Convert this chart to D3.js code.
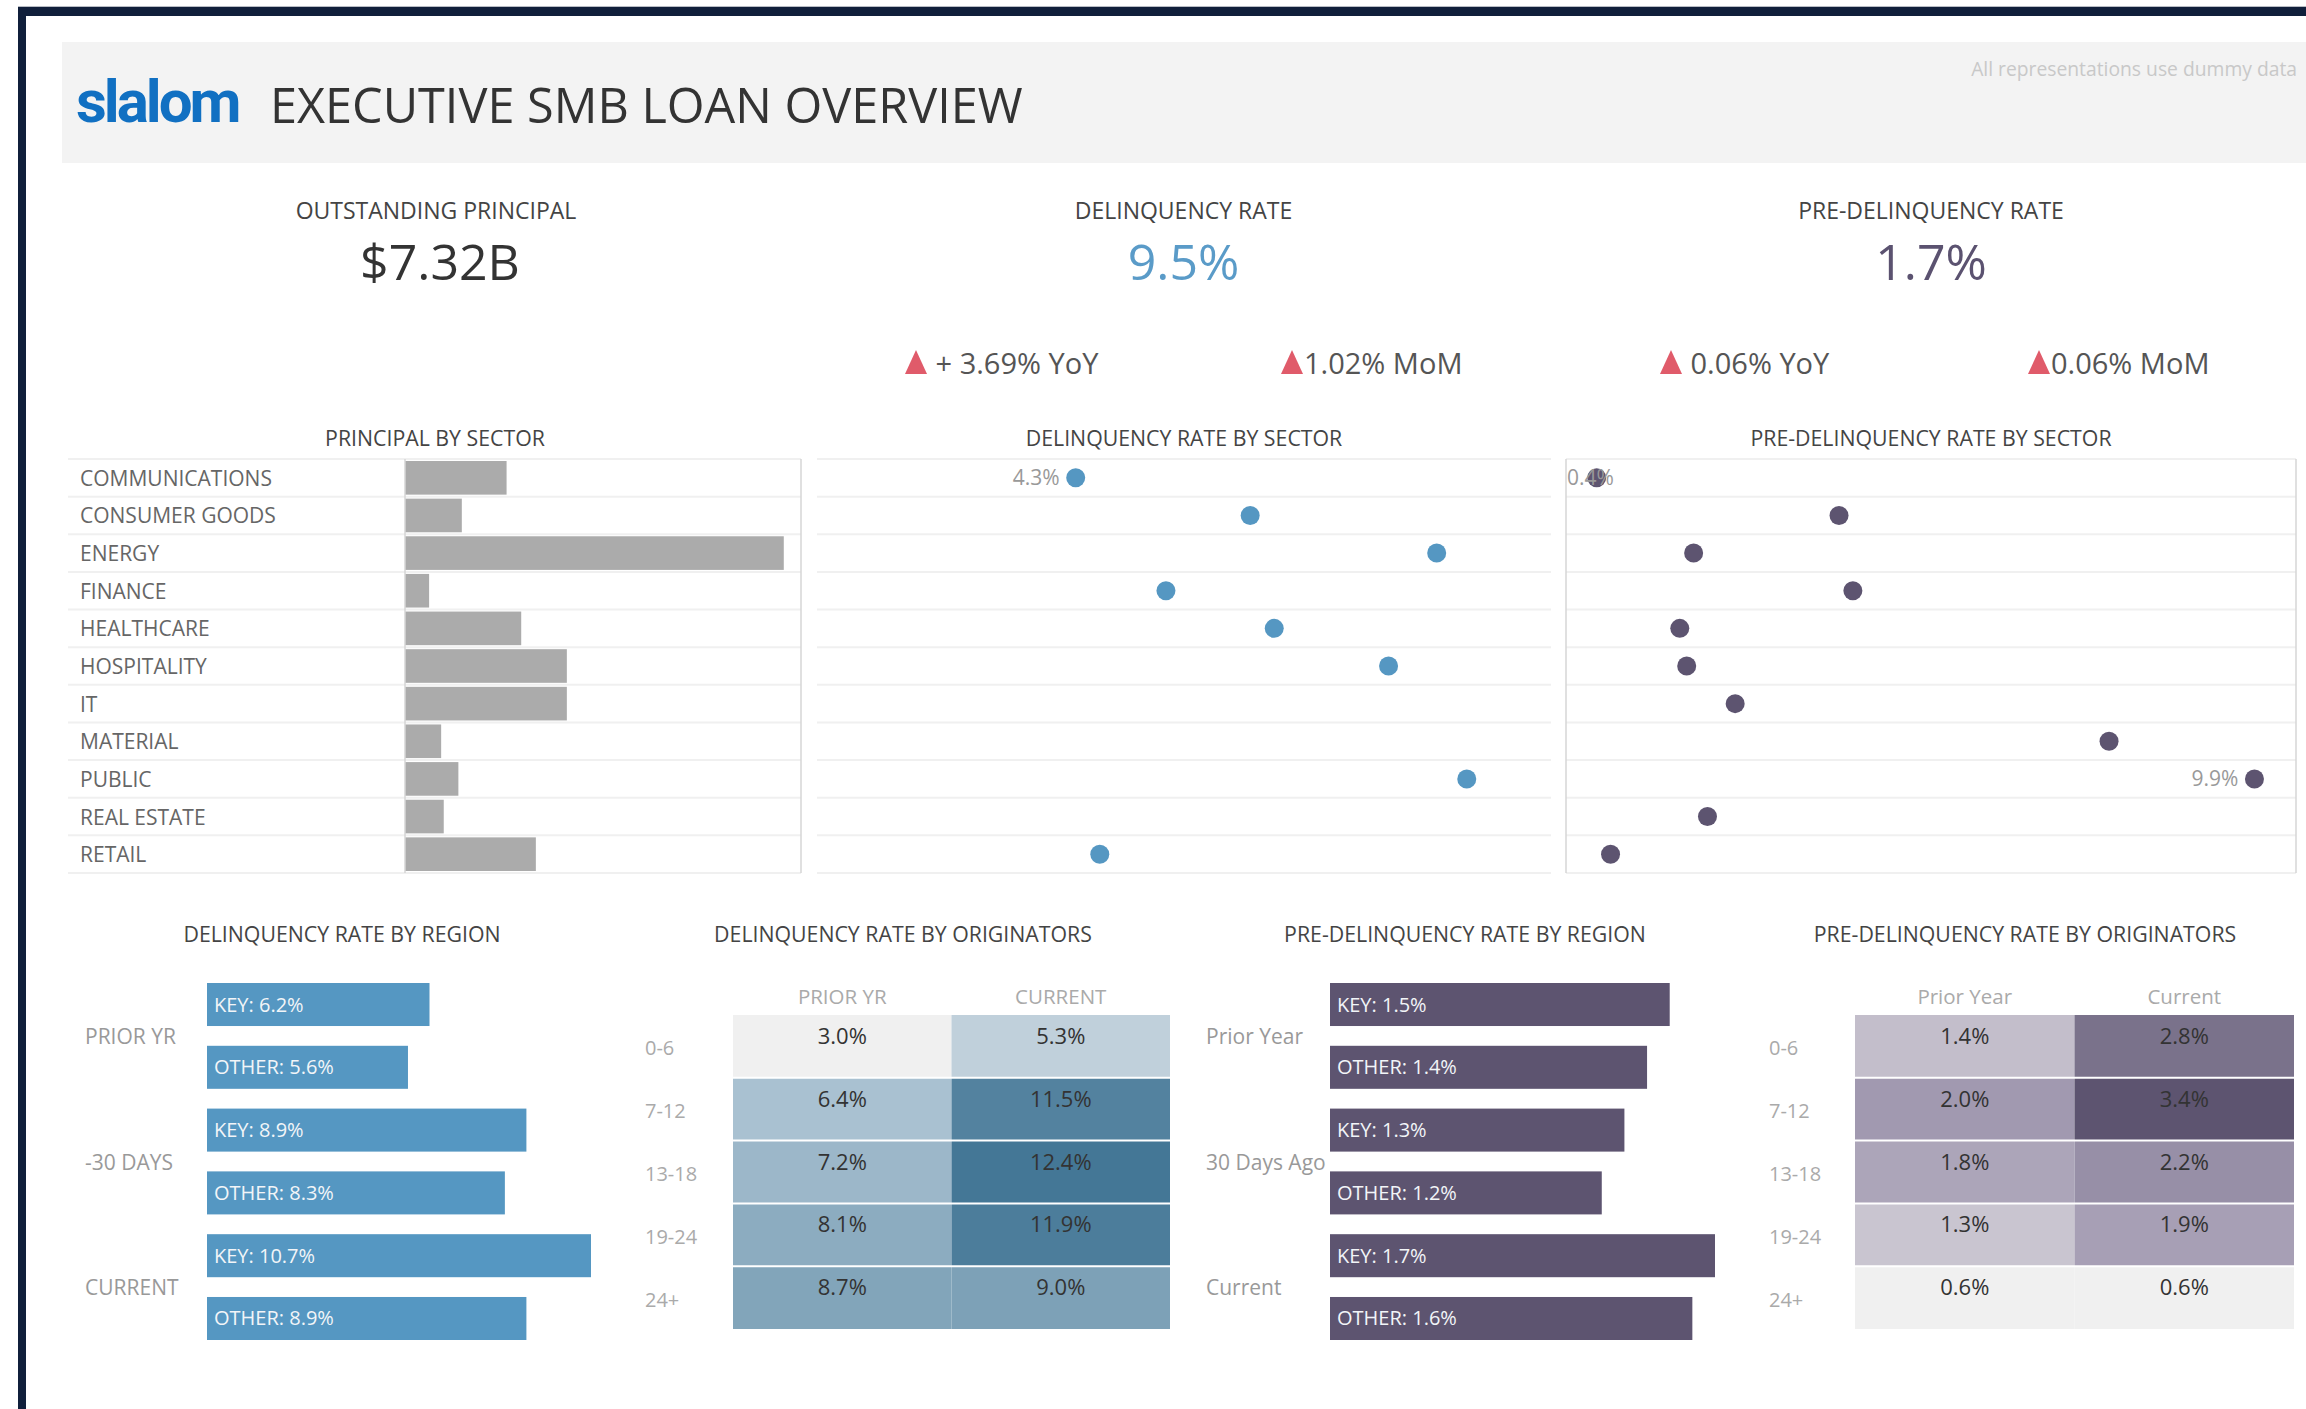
<!DOCTYPE html>
<html>
<head>
<meta charset="utf-8">
<title>Executive SMB Loan Overview</title>
<style>
  body, html { margin: 0; padding: 0; background: #fff; }
  svg { display: block; font-family: 'Open Sans', sans-serif; }
</style>
</head>
<body>
<svg id="svg" width="2306" height="1409"></svg>
<script src="https://cdn.jsdelivr.net/npm/d3@7/dist/d3.min.js"></script>
<script>
// ---- data ----
const sectors = ['COMMUNICATIONS', 'CONSUMER GOODS', 'ENERGY', 'FINANCE', 'HEALTHCARE',
  'HOSPITALITY', 'IT', 'MATERIAL', 'PUBLIC', 'REAL ESTATE', 'RETAIL']
// principal in $M
const principal = [590, 330, 2200, 140, 675, 940, 940, 210, 310, 225, 760]
// delinquency rate by sector (%), null = no mark
const delinqSector = [4.3, 7.2, 10.3, 5.8, 7.6, 9.5, null, null, 10.8, null, 4.7]
const preDelinqSector = [0.4, 3.9, 1.8, 4.1, 1.6, 1.7, 2.4, 7.8, 9.9, 2.0, 0.6]
const delinqLabelled = ['COMMUNICATIONS']
const preLabelled = ['COMMUNICATIONS', 'PUBLIC']

const kpis = [
  { label: 'OUTSTANDING PRINCIPAL', value: '$7.32B' },
  { label: 'DELINQUENCY RATE', value: '9.5%' },
  { label: 'PRE-DELINQUENCY RATE', value: '1.7%' }
]
const changes = [' + 3.69% YoY', '1.02% MoM', ' 0.06% YoY', '0.06% MoM']

const delinqGroups = ['PRIOR YR', '-30 DAYS', 'CURRENT']
const delinqKey = [6.2, 8.9, 10.7]
const delinqOther = [5.6, 8.3, 8.9]
const preGroups = ['Prior Year', '30 Days Ago', 'Current']
const preKey = [1.5, 1.3, 1.7]
const preOther = [1.4, 1.2, 1.6]

const buckets = ['0-6', '7-12', '13-18', '19-24', '24+']
const delinqPrior = [3.0, 6.4, 7.2, 8.1, 8.7]
const delinqCurrent = [5.3, 11.5, 12.4, 11.9, 9.0]
const prePrior = [1.4, 2.0, 1.8, 1.3, 0.6]
const preCurrent = [2.8, 3.4, 2.2, 1.9, 0.6]

const BLUE = '#5597c2'
const PURPLE = '#5d5470'
const fmt = d => d.toFixed(1) + '%'

const svg = d3.select('#svg')

// ---- frame & header ----
svg.append('rect').attr('x', 0).attr('y', 0).attr('width', 2306).attr('height', 1409).attr('fill', '#fff')
svg.append('rect').attr('x', 18).attr('y', 6).attr('width', 2288).attr('height', 1).attr('fill', '#b8bcc4')
svg.append('rect').attr('x', 18).attr('y', 7).attr('width', 2288).attr('height', 9).attr('fill', '#101f3b')
svg.append('rect').attr('x', 18).attr('y', 7).attr('width', 8).attr('height', 1402).attr('fill', '#101f3b')
svg.append('rect').attr('x', 62).attr('y', 42).attr('width', 2244).attr('height', 121).attr('fill', '#f3f3f3')

svg.append('text').attr('x', 76).attr('y', 122)
  .attr('font-family', 'Roboto, sans-serif').attr('font-weight', 700)
  .attr('font-size', 60).attr('letter-spacing', -3).attr('fill', '#1170c2')
  .text('slalom')
svg.append('text').attr('x', 270).attr('y', 123)
  .attr('font-size', 48.6).attr('fill', '#333').text('EXECUTIVE SMB LOAN OVERVIEW')
svg.append('text').attr('x', 2297).attr('y', 76).attr('text-anchor', 'end')
  .attr('font-size', 19.3).attr('fill', '#c8c8c8').text('All representations use dummy data')

// ---- KPIs ----
const kpiX = d3.scalePoint().domain(kpis.map(d => d.label)).range([436, 1931])
const kpiColor = ['#333', '#5a9bc8', '#5b5270']
kpis.forEach((k, i) => {
  svg.append('text').attr('x', kpiX(k.label)).attr('y', 219).attr('text-anchor', 'middle')
    .attr('font-size', 23).attr('fill', '#444').text(k.label)
  svg.append('text').attr('x', kpiX(k.label) + (i === 0 ? 4 : 0)).attr('y', 280).attr('text-anchor', 'middle')
    .attr('font-size', 50).attr('fill', kpiColor[i]).text(k.value)
})

const changeX = [905, 1281, 1660, 2028]
changes.forEach((c, i) => {
  const x = changeX[i]
  svg.append('path').attr('d', `M${x},374 L${x + 22},374 L${x + 11},350 Z`).attr('fill', '#e05b6a')
  svg.append('text').attr('x', x + 23).attr('y', 374).attr('font-size', 29).attr('fill', '#555')
    .attr('xml:space', 'preserve').text(c)
})

// ---- section titles ----
function title(x, y, t) {
  svg.append('text').attr('x', x).attr('y', y).attr('text-anchor', 'middle')
    .attr('font-size', 21.3).attr('fill', '#444').text(t)
}
title(435, 446, 'PRINCIPAL BY SECTOR')
title(1184, 446, 'DELINQUENCY RATE BY SECTOR')
title(1931, 446, 'PRE-DELINQUENCY RATE BY SECTOR')
title(342, 942, 'DELINQUENCY RATE BY REGION')
title(903, 942, 'DELINQUENCY RATE BY ORIGINATORS')
title(1465, 942, 'PRE-DELINQUENCY RATE BY REGION')
title(2025, 942, 'PRE-DELINQUENCY RATE BY ORIGINATORS')

// ---- sector charts ----
const y = d3.scaleBand().domain(sectors).range([459, 873])
const rowLines = sectors.map(s => y(s)).concat([873])

function gridRows(x0, x1) {
  svg.append('g').selectAll('line').data(rowLines).join('line')
    .attr('x1', x0).attr('x2', x1).attr('y1', d => d).attr('y2', d => d)
    .attr('stroke', '#f0f0f0').attr('stroke-width', 2)
}
function vline(x) {
  svg.append('line').attr('x1', x).attr('x2', x).attr('y1', 459).attr('y2', 873)
    .attr('stroke', '#d6d6d6').attr('stroke-width', 1.5)
}

// principal bars
gridRows(68, 801)
const xP = d3.scaleLinear().domain([0, 2300]).range([405, 801])
svg.append('g').selectAll('rect').data(sectors).join('rect')
  .attr('x', xP(0)).attr('y', d => y(d) + 2)
  .attr('width', (d, i) => xP(principal[i]) - xP(0)).attr('height', y.bandwidth() - 4)
  .attr('fill', '#ababab')
svg.append('g').selectAll('text').data(sectors).join('text')
  .attr('x', 80).attr('y', d => y(d) + y.bandwidth() / 2 + 8)
  .attr('font-size', 21).attr('fill', '#666').text(d => d)
vline(405)
vline(801)

// dot plots
function dotPlot(values, x, color, labelled, paneLeft) {
  const pts = sectors.map((s, i) => ({ s, v: values[i] })).filter(d => d.v != null)
  svg.append('g').selectAll('circle').data(pts).join('circle')
    .attr('cx', d => x(d.v)).attr('cy', d => y(d.s) + y.bandwidth() / 2)
    .attr('r', 9.5).attr('fill', color)
  pts.filter(d => labelled.includes(d.s)).forEach(d => {
    const t = svg.append('text').attr('font-size', 21).attr('fill', '#999')
      .attr('y', y(d.s) + y.bandwidth() / 2 + 7).text(fmt(d.v))
    const w = t.node().getComputedTextLength()
    t.attr('x', Math.max(x(d.v) - 16 - w, paneLeft))
  })
}
gridRows(817, 1551)
const xD = d3.scaleLinear().domain([0, 12.2]).range([817, 1551])
dotPlot(delinqSector, xD, BLUE, delinqLabelled, 817)

gridRows(1566, 2296)
const xPD = d3.scaleLinear().domain([0, 10.5]).range([1569, 2296])
vline(1566)
vline(2296)
dotPlot(preDelinqSector, xPD, PURPLE, preLabelled, 1567)

// ---- region bars ----
function regionBars(groups, keyVals, otherVals, x0, x1, maxV, color, labelX) {
  const rows = []
  groups.forEach((g, i) => {
    rows.push({ g, id: g + '|KEY', name: 'KEY', v: keyVals[i] })
    rows.push({ g, id: g + '|OTHER', name: 'OTHER', v: otherVals[i] })
  })
  const yb = d3.scaleBand().domain(rows.map(r => r.id)).range([983, 1340]).paddingInner(0.315)
  const x = d3.scaleLinear().domain([0, maxV]).range([x0, x1])
  svg.append('g').selectAll('rect').data(rows).join('rect')
    .attr('x', x(0)).attr('y', d => yb(d.id)).attr('height', yb.bandwidth())
    .attr('width', d => x(d.v) - x(0)).attr('fill', color)
  svg.append('g').selectAll('text').data(rows).join('text')
    .attr('x', x(0) + 7).attr('y', d => yb(d.id) + yb.bandwidth() / 2 + 7)
    .attr('font-size', 20).attr('fill', '#f2f5f8')
    .text(d => `${d.name}: ${fmt(d.v)}`)
  svg.append('g').selectAll('text').data(groups).join('text')
    .attr('x', labelX)
    .attr('y', g => (yb(g + '|KEY') + yb(g + '|OTHER') + yb.bandwidth()) / 2 + 8)
    .attr('font-size', 21).attr('fill', '#999').text(g => g)
}
regionBars(delinqGroups, delinqKey, delinqOther, 207, 591, 10.7, BLUE, 85)
regionBars(preGroups, preKey, preOther, 1330, 1715, 1.7, PURPLE, 1206)

// ---- originator heatmaps ----
function heatmap(prior, current, colHeads, x0, x1, color, rowLabelX) {
  const cols = ['prior', 'current']
  const xb = d3.scaleBand().domain(cols).range([x0, x1])
  const yb = d3.scaleBand().domain(buckets).range([1015, 1329])
  const cells = []
  buckets.forEach((b, i) => {
    cells.push({ b, c: 'prior', v: prior[i] })
    cells.push({ b, c: 'current', v: current[i] })
  })
  svg.append('g').selectAll('rect').data(cells).join('rect')
    .attr('x', d => xb(d.c)).attr('y', d => yb(d.b))
    .attr('width', xb.bandwidth()).attr('height', yb.bandwidth())
    .attr('fill', d => color(d.v))
  svg.append('g').selectAll('line').data(buckets.slice(1)).join('line')
    .attr('x1', x0).attr('x2', x1).attr('y1', d => yb(d)).attr('y2', d => yb(d))
    .attr('stroke', '#fff').attr('stroke-width', 2)
  svg.append('g').selectAll('text').data(cells).join('text')
    .attr('x', d => xb(d.c) + xb.bandwidth() / 2).attr('y', d => yb(d.b) + 29)
    .attr('text-anchor', 'middle').attr('font-size', 22).attr('fill', '#333')
    .text(d => fmt(d.v))
  svg.append('g').selectAll('text').data(cols).join('text')
    .attr('x', d => xb(d) + xb.bandwidth() / 2).attr('y', 1004)
    .attr('text-anchor', 'middle').attr('font-size', 20.5).attr('fill', '#aaa')
    .text((d, i) => colHeads[i])
  svg.append('g').selectAll('text').data(buckets).join('text')
    .attr('x', rowLabelX).attr('y', d => yb(d) + yb.bandwidth() / 2 + 9)
    .attr('font-size', 20).attr('fill', '#aaa').text(d => d)
}
const delinqColor = d3.scaleLinear().domain([3.0, 6.4, 12.4]).range(['#f0f0f0', '#a9c1d1', '#447796'])
const preColor = d3.scaleLinear().domain([0.6, 2.0, 3.4]).range(['#f0f0f0', '#a199b0', '#5d5470'])
heatmap(delinqPrior, delinqCurrent, ['PRIOR YR', 'CURRENT'], 733, 1170, delinqColor, 645)
heatmap(prePrior, preCurrent, ['Prior Year', 'Current'], 1855, 2294, preColor, 1769)
</script>
</body>
</html>
